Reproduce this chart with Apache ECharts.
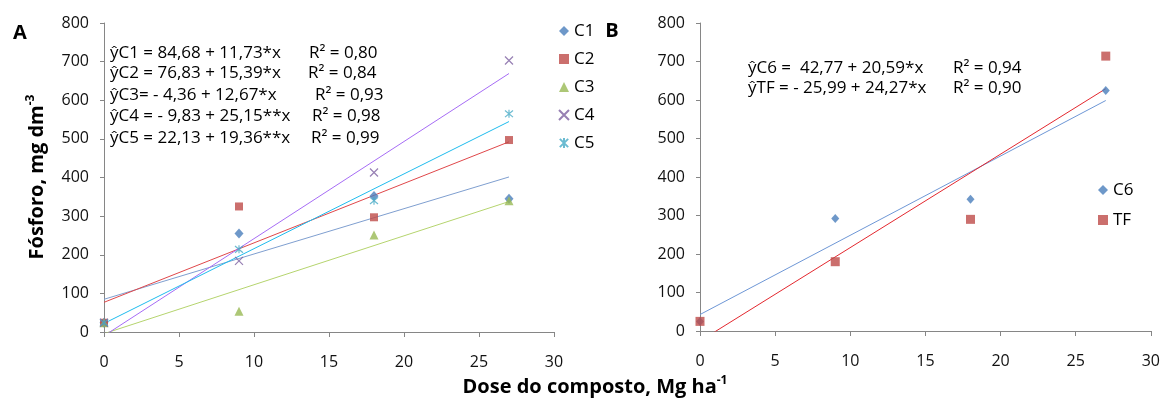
<!DOCTYPE html>
<html>
<head>
<meta charset="utf-8">
<script src="https://cdn.jsdelivr.net/npm/echarts@6/dist/echarts.min.js"></script>
<style>
  html, body { margin: 0; padding: 0; background: #fff; }
  #chart { width: 1163px; height: 402px; }
</style>
</head>
<body>
<div id="chart"></div>
<script>
// Compost dose (Mg ha-1) on the x axis
const doses = [0, 9, 18, 27];

// Panel A: phosphorus (mg dm-3) for composts C1..C5
const seriesA = ['C1', 'C2', 'C3', 'C4', 'C5'];
const c1 = [24, 255, 352, 345];
const c2 = [24, 325, 297, 497];
const c3 = [24, 54, 251, 340];
const c4 = [24, 184, 413, 703];
const c5 = [24, 214, 340, 565];

// Panel B: compost C6 and the TF treatment
const seriesB = ['C6', 'TF'];
const c6 = [25, 292, 342, 625];
const tf = [25, 180, 290, 714];

// Fitted linear models (intercept, slope) as stated in the equations
const interceptsA = [84.68, 76.83, -4.36, -9.83, 22.13];
const slopesA = [11.73, 15.39, 12.67, 25.15, 19.36];
const interceptsB = [42.77, -25.99];
const slopesB = [20.59, 24.27];

const eqTextA = [
  'ŷC1 = 84,68 + 11,73*x',
  'ŷC2 = 76,83 + 15,39*x',
  'ŷC3= - 4,36 + 12,67*x',
  'ŷC4 = - 9,83 + 25,15**x',
  'ŷC5 = 22,13 + 19,36**x'
];
const r2TextA = ['R² = 0,80', 'R² = 0,84', 'R² = 0,93', 'R² = 0,98', 'R² = 0,99'];
const eqTextB = ['ŷC6 =  42,77 + 20,59*x', 'ŷTF = - 25,99 + 24,27*x'];
const r2TextB = ['R² = 0,94', 'R² = 0,90'];

const yTicks = [0, 100, 200, 300, 400, 500, 600, 700, 800];
const xTicks = [0, 5, 10, 15, 20, 25, 30];

const FONT = '"Open Sans", "Noto Sans", sans-serif';

const crossPath = 'path://M0,0L10,10M10,0L0,10';
const starPath = 'path://M0,0L10,10M10,0L0,10M5,-1L5,11';

const dataA = [c1, c2, c3, c4, c5];
const dataB = [c6, tf];

const markerStyles = {
  C1: { symbol: 'diamond', size: [9, 10], color: '#4A7EBB' },
  C2: { symbol: 'rect', size: 8, color: '#BE4B48' },
  C3: { symbol: 'triangle', size: 9, color: '#98B954' },
  C4: { symbol: crossPath, size: 8, color: '#7D60A0', stroke: true },
  C5: { symbol: starPath, size: 8, color: '#46AAC5', stroke: true },
  C6: { symbol: 'diamond', size: [8, 9], color: '#4A7EBB' },
  TF: { symbol: 'rect', size: 9, color: '#BE4B48' }
};
const lineColorsA = ['#7F9FD0', '#E0474A', '#B5D46E', '#A66CF5', '#1FBCEE'];
const lineColorsB = ['#6E97D6', '#E3272E'];

function axisStyle(gridIndex, isX) {
  return {
    type: 'value',
    gridIndex: gridIndex,
    min: 0,
    max: isX ? xTicks[xTicks.length - 1] : yTicks[yTicks.length - 1],
    interval: isX ? xTicks[1] - xTicks[0] : yTicks[1] - yTicks[0],
    splitLine: { show: false },
    axisLine: { show: true, onZero: false, lineStyle: { color: '#868686', width: 1 } },
    axisTick: { show: true, inside: false, length: isX ? 5 : 4, lineStyle: { color: '#868686' } },
    axisLabel: {
      color: '#111',
      fontFamily: FONT,
      fontSize: 16,
      margin: isX ? 22 : 15
    }
  };
}

function scatterSeries(name, values, xi, yi) {
  const m = markerStyles[name];
  const itemStyle = m.stroke
    ? { color: 'rgba(0,0,0,0)', borderColor: m.color, borderWidth: 1.2 }
    : { color: m.color };
  return {
    name: name,
    type: 'scatter',
    xAxisIndex: xi,
    yAxisIndex: yi,
    symbol: m.symbol,
    symbolSize: m.size,
    itemStyle: itemStyle,
    z: 3,
    data: doses.map((d, i) => [d, values[i]])
  };
}

function trendSeries(name, a, b, color, xi, yi) {
  const x0 = doses[0];
  const x1 = doses[doses.length - 1];
  return {
    name: name + ' fit',
    type: 'line',
    xAxisIndex: xi,
    yAxisIndex: yi,
    showSymbol: false,
    symbol: 'none',
    clip: true,
    silent: true,
    z: 2,
    lineStyle: { color: color, width: 1 },
    data: [[x0, a + b * x0], [x1, a + b * x1]]
  };
}

const series = [];
seriesA.forEach((n, i) => series.push(trendSeries(n, interceptsA[i], slopesA[i], lineColorsA[i], 0, 0)));
seriesB.forEach((n, i) => series.push(trendSeries(n, interceptsB[i], slopesB[i], lineColorsB[i], 1, 1)));
seriesA.forEach((n, i) => series.push(scatterSeries(n, dataA[i], 0, 0)));
seriesB.forEach((n, i) => series.push(scatterSeries(n, dataB[i], 1, 1)));

function textEl(text, x, y, size, opts) {
  opts = opts || {};
  return {
    type: 'text',
    x: x,
    y: y,
    rotation: opts.rotation || 0,
    style: {
      text: text,
      fill: '#000',
      font: (opts.bold ? 'bold ' : '') + size + 'px ' + FONT,
      align: opts.align || 'left',
      verticalAlign: 'middle',
      rich: opts.rich
    }
  };
}

const eqYA = [53, 73, 95, 116, 138];
const r2XA = [309, 308, 315, 312, 311];
const eqYB = [68, 88];

const graphics = [];
eqTextA.forEach((t, i) => graphics.push(textEl(t, 110, eqYA[i], 17)));
r2TextA.forEach((t, i) => graphics.push(textEl(t, r2XA[i], eqYA[i], 17)));
eqTextB.forEach((t, i) => graphics.push(textEl(t, 748, eqYB[i], 17)));
r2TextB.forEach((t, i) => graphics.push(textEl(t, 953, eqYB[i], 17)));
graphics.push(textEl('A', 20, 33, 20, { bold: true, align: 'center' }));
graphics.push(textEl('B', 612, 31, 20, { bold: true, align: 'center' }));

const supRich = {
  sup: { fontSize: 12, fontWeight: 'bold', fontFamily: FONT, verticalAlign: 'top', lineHeight: 24 },
  t: { fontSize: 20, fontWeight: 'bold', fontFamily: FONT, lineHeight: 24 }
};
graphics.push(textEl('{t|Fósforo, mg dm}{sup|-3}', 37, 177, 20, {
  bold: true, align: 'center', rotation: Math.PI / 2, rich: supRich
}));
graphics.push(textEl('{t|Dose do composto, Mg ha}{sup|-1}', 595, 387, 20, {
  bold: true, align: 'center', rich: supRich
}));

const legendBase = {
  orient: 'vertical',
  itemWidth: 10,
  itemHeight: 10,
  textStyle: { fontFamily: FONT, fontSize: 17, color: '#000', lineHeight: 18 },
  selectedMode: false
};

const option = {
  backgroundColor: '#fff',
  animation: false,
  grid: [
    { left: 104, top: 23, width: 450, height: 309 },
    { left: 700, top: 23, width: 451, height: 308 }
  ],
  xAxis: [axisStyle(0, true), axisStyle(1, true)],
  yAxis: [axisStyle(0, false), axisStyle(1, false)],
  legend: [
    Object.assign({}, legendBase, { left: 553, top: 17, itemGap: 10, data: seriesA }),
    Object.assign({}, legendBase, { left: 1093, top: 176, itemGap: 12, data: seriesB })
  ],
  graphic: graphics,
  series: series
};

const chart = echarts.init(document.getElementById('chart'), null, { renderer: 'canvas' });
chart.setOption(option);
</script>
</body>
</html>
